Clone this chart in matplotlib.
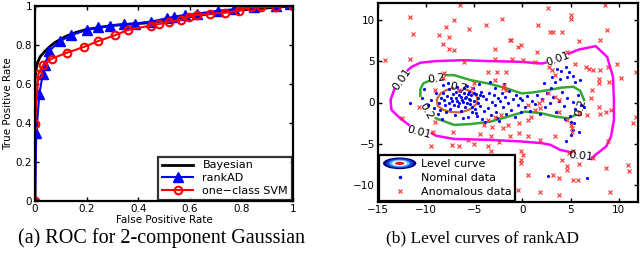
import matplotlib as mlp
mlp.use('Agg')
import matplotlib.pyplot as plt
from matplotlib.legend_handler import HandlerBase
from matplotlib.patches import Ellipse, Patch
from matplotlib.lines import Line2D

# ---- ROC curves (panel a)
bayes_fpr = [0, 0, 0.005, 0.01, 0.02, 0.04, 0.06, 0.08, 0.12, 0.16, 0.2, 0.25, 0.3, 0.35, 0.4,
             0.45, 0.5, 0.6, 0.7, 0.8, 0.9, 1.0]
bayes_tpr = [0, 0.63, 0.68, 0.71, 0.74, 0.77, 0.795, 0.815, 0.845, 0.865, 0.88, 0.89, 0.9, 0.905,
             0.91, 0.915, 0.925, 0.945, 0.965, 0.98, 0.99, 1.0]
rank_fpr = [0, 0.005, 0.017, 0.03, 0.04, 0.055, 0.097, 0.14, 0.2, 0.245, 0.29, 0.345, 0.387,
            0.45, 0.51, 0.54, 0.58, 0.626, 0.71, 0.77, 0.85, 0.935, 0.99]
rank_tpr = [0, 0.35, 0.55, 0.65, 0.70, 0.77, 0.82, 0.85, 0.877, 0.89, 0.9, 0.907, 0.91,
            0.92, 0.937, 0.945, 0.954, 0.96, 0.976, 0.983, 0.993, 1.0, 1.01]
svm_fpr = [0, 0, 0.013, 0.032, 0.065, 0.123, 0.19, 0.245, 0.31, 0.36, 0.45, 0.48, 0.52,
           0.564, 0.597, 0.626, 0.677, 0.738, 0.79, 0.839, 0.877, 0.933, 1.0]
svm_tpr = [0, 0.395, 0.651, 0.697, 0.73, 0.76, 0.79, 0.82, 0.85, 0.877, 0.9, 0.907, 0.92,
           0.928, 0.945, 0.954, 0.96, 0.966, 0.976, 0.993, 0.993, 0.997, 1.0]

# ---- level curves of rankAD (panel b)
lev001_a = [(-9.4, -3.7), (-9.0, -4.0), (-7.1, -4.4), (-3.6, -4.5), (-0.1, -4.7), (2.0, -4.9),
            (2.9, -5.1), (3.9, -5.7), (5.0, -6.0)]
lev001_b = [(7.2, -6.7), (7.6, -6.3), (8.7, -5.3), (9.2, -4.1), (9.5, -2.1), (9.5, 0.3),
            (9.4, 3.1), (8.8, 5.5), (7.6, 6.8), (5.9, 6.4), (4.8, 5.9)]
lev001_c = [(2.4, 4.8), (2.0, 4.7), (-0.1, 4.9), (-3.6, 5.0), (-6.1, 5.1), (-8.9, 5.0),
            (-10.6, 4.8), (-11.5, 4.3), (-11.9, 3.9)]
lev001_d = [(-13.3, 1.6), (-13.7, 0.3), (-13.6, -0.9), (-12.7, -1.9), (-11.8, -2.7)]
lev02_a = [(-8.0, 3.3), (-7.1, 3.3), (-5.4, 2.7), (-3.6, 2.3), (-1.9, 1.8), (-0.1, 1.1),
           (1.0, 1.2), (2.7, 1.5), (4.1, 1.8), (5.3, 1.9), (6.0, 1.4), (6.4, 0.3)]
lev02_b = [(5.5, -1.5), (4.8, -1.9), (3.4, -1.7), (2.0, -1.3), (0.25, -1.1), (-1.5, -1.7),
           (-3.3, -2.3), (-5.4, -2.6), (-7.1, -2.7), (-9.0, -1.9)]
lev02_c = [(-9.7, 2.6), (-10.3, 2.3), (-10.6, 1.6), (-10.6, 0.8)]
lev07 = [(-7.2, 1.75), (-7.9, 1.5), (-8.5, 1.1), (-8.9, 0.4), (-8.8, -0.4), (-8.2, -0.9),
         (-7.4, -1.15), (-6.4, -1.2), (-5.4, -0.8), (-4.7, -0.1), (-4.7, 0.7), (-5.3, 1.3),
         (-5.9, 1.6)]
level_labels = [('0.01', -12.5, 2.8, 55), ('0.01', 3.7, 5.3, 20), ('0.01', 6.1, -6.5, -5),
                ('0.01', -10.7, -3.6, -15), ('0.2', -8.9, 2.9, 10), ('0.2', 6.0, -0.6, 75),
                ('0.2', -10.0, -1.0, -60), ('0.7', -6.6, 1.8, -10)]

nominal = [(-8.5, 0.5), (-8.2, 1.2), (-8.0, -0.3), (-7.8, 0.8), (-7.6, 1.6), (-7.5, -0.8),
           (-7.3, 0.2), (-7.2, 1.0), (-7.0, -1.5), (-6.9, 0.6), (-6.8, 1.9), (-6.7, -0.4),
           (-6.6, 0.9), (-6.5, 1.4), (-6.4, -1.0), (-6.3, 0.3), (-6.2, 0.1), (-6.1, 1.1),
           (-6.0, -0.6), (-5.9, 0.7), (-5.8, 2.0), (-5.7, -1.8), (-5.6, 0.4), (-5.5, 1.3),
           (-5.4, -0.2), (-5.3, 0.9), (-5.2, -1.2), (-5.1, 1.7), (-5.0, 0.2), (-4.9, -0.8),
           (-4.8, 1.0), (-4.7, -1.6), (-4.6, 0.5), (-4.5, 2.2), (-4.4, -0.4), (-4.3, 1.3),
           (-4.2, -2.0), (-4.1, 0.8), (-4.0, -1.0), (-9.5, 0.3), (-9.2, -0.7), (-9.0, 1.1),
           (-8.8, -1.4), (-8.7, 0.0), (-8.4, -2.0), (-8.3, 2.1), (-8.1, 0.3), (-7.9, -1.1),
           (-7.7, 2.4), (-7.4, 0.6), (-7.1, -0.3), (-6.95, 1.3), (-6.75, 0.2), (-6.55, -0.1),
           (-6.35, 0.7), (-6.15, -1.9), (-5.95, 0.5), (-5.75, -0.1), (-5.65, 1.0), (-5.45, 0.3),
           (-5.25, -0.5), (-5.05, 1.1), (-4.85, -1.3), (-4.65, 0.0), (-4.45, 0.9), (-10.2, 1.6),
           (-9.8, -0.3), (-10.4, 0.6), (-11.7, -0.1), (-7.65, -0.05), (-6.05, 1.75), (-8.6, -0.9),
           (-3.8, 0.4), (-3.6, -0.7), (-3.5, 1.2), (-3.3, -1.5), (-3.2, 0.1), (-3.0, 0.9),
           (-2.9, -0.3), (-2.8, 1.8), (-2.7, -1.1), (-2.5, 0.5), (-2.4, -2.2), (-2.3, 0.2),
           (-2.1, 1.1), (-2.0, -0.6), (-1.8, 0.7), (-1.7, -1.4), (-1.5, 0.0), (-1.4, 1.4),
           (-1.2, -0.9), (-1.0, 0.4), (-0.8, -1.8), (-0.7, 0.9), (-0.5, -0.3), (-0.3, 0.6),
           (-0.2, -1.2), (0.0, 0.3), (-3.4, 2.5), (-2.6, -1.9), (-1.9, 2.2), (-3.9, -2.4),
           (0.3, -0.5), (0.5, 0.8), (0.8, -1.0), (1.0, 0.2), (1.3, -0.2), (1.5, 0.9),
           (1.8, -1.4), (2.0, 0.4), (2.3, -0.6), (2.6, 1.2), (2.9, -0.1), (3.2, 0.7),
           (3.5, -1.1), (3.8, 0.2), (4.1, 1.3), (4.3, -0.4), (4.6, 0.6), (4.9, -1.6),
           (5.2, 0.1), (5.5, -0.8), (5.8, 0.9), (6.1, -0.3), (6.4, -0.6), (5.0, -2.3),
           (4.4, -2.0), (3.0, 1.8), (3.1, 3.1), (3.4, 2.5), (3.6, 4.1), (4.0, 3.8),
           (4.5, 4.3), (4.6, 3.1), (4.8, 3.7), (5.5, 2.5), (6.0, 2.7), (2.2, 2.4),
           (3.9, 2.8), (5.2, 3.2), (5.0, -3.9), (5.2, -3.3), (5.9, -3.5), (5.4, -2.5),
           (2.7, -8.9), (6.7, -9.1), (4.5, -4.6)]

anomalous = [(-6.5, 11.7), (-11.7, 10.3), (-7.1, 9.9), (5.0, 10.5), (5.0, 10.1), (2.7, 11.4),
             (8.6, 11.8), (-11.4, 8.3), (-7.9, 9.1), (-8.7, 8.1), (-7.6, 7.9), (-5.5, 8.9),
             (-3.8, 9.3), (-2.1, 10.1), (2.9, 8.5), (3.2, 8.5), (4.1, 8.5), (8.8, 8.8),
             (1.65, 9.4), (-1.15, 7.5), (-1.3, 7.5), (-0.45, 6.7), (-0.1, 6.9), (-8.2, 7.1),
             (-7.6, 6.5), (-7.1, 6.3), (-2.9, 6.5), (1.5, 6.1), (4.6, 6.1), (5.9, 7.4),
             (8.1, 7.5), (-14.3, 5.1), (-11.7, 5.3), (-6.1, 4.9), (-2.9, 5.3), (-1.1, 5.3),
             (0.1, 5.1), (1.3, 4.9), (2.8, 4.3), (3.1, 3.9), (3.4, 3.3), (5.5, 4.7),
             (6.6, 4.3), (6.9, 4.1), (7.3, 3.9), (8.1, 3.9), (8.9, 4.3), (9.8, 4.6),
             (10.2, 3.0), (11.8, 3.7), (9.0, 2.5), (7.9, 2.8), (7.9, 2.3), (7.2, 1.5),
             (7.1, 0.5), (7.9, -0.5), (8.7, -1.1), (9.2, -0.9), (6.7, -1.5), (5.9, -1.3),
             (5.0, -2.7), (4.6, -2.1), (3.8, -1.2), (3.8, 0.3), (3.4, 0.7), (2.7, 1.1),
             (2.0, 0.3), (1.7, -0.1), (1.8, -0.7), (1.3, -0.9), (0.6, -0.3), (0.9, -1.8),
             (0.6, -2.1), (-0.4, -2.5), (-1.5, -2.7), (-2.2, -1.5), (-2.9, -1.7), (-3.6, -2.1),
             (-4.0, -2.7), (-3.2, -2.9), (-2.0, 1.7), (-1.9, 2.1), (-1.7, 1.5), (-2.9, 2.7),
             (-2.6, 3.7), (-1.7, 3.7), (-3.6, 3.7), (-5.0, 2.3), (-5.2, 1.7), (-6.6, 1.5),
             (-8.1, 3.6), (-8.3, 2.9), (-9.1, 1.5), (-10.7, -0.5), (-12.5, -1.9), (-9.1, -2.3),
             (-9.3, -3.5), (-7.2, -3.6), (-5.7, -4.5), (-4.4, -3.8), (-3.3, -4.1), (-2.0, -3.1),
             (-1.3, -4.1), (-0.4, -3.7), (0.6, -4.1), (1.8, -4.5), (3.4, -4.1), (5.1, -3.1),
             (5.1, -3.5), (5.3, -5.9), (4.8, -6.1), (4.1, -6.9), (7.3, -6.7), (5.9, -7.4),
             (4.6, -7.7), (4.6, -8.1), (-0.1, -5.9), (0.05, -6.3), (-0.1, -6.9), (-0.1, -7.3),
             (0.6, -8.7), (3.2, -8.7), (3.8, -9.1), (5.2, -9.3), (5.8, -9.3), (1.8, -10.8),
             (3.8, -11.1), (-0.45, -10.5), (9.1, -10.8), (11.0, -7.5), (11.1, -8.3), (11.8, -1.7),
             (11.5, -2.5), (8.1, -1.4), (8.9, -4.7), (8.7, -7.9), (-9.5, -5.2), (-7.3, -5.1),
             (-6.6, -5.3), (-5.0, -5.0), (-3.6, -5.2), (-3.3, -5.9), (-2.4, -4.8)]


class HandlerLevel(HandlerBase):
    # nested ellipses, like a filled contour swatch
    def create_artists(self, legend, orig_handle, xdescent, ydescent, width, height, fontsize, trans):
        cx = width / 2 - xdescent
        cy = height / 2 - ydescent
        out = []
        for s, c in zip([1.0, 0.82, 0.62, 0.45, 0.28],
                        ['#00007a', '#1040e0', '#60b8ff', '#ffffff', '#ff1010']):
            out.append(Ellipse((cx, cy), width * s, height * 1.5 * s, facecolor=c,
                               edgecolor='none', transform=trans))
        return out


def style_axes(ax):
    for sp in ax.spines.values():
        sp.set_linewidth(1.6)
    ax.tick_params(direction='in', top=True, right=True, length=3, width=1, labelsize=7.5, pad=2)


fig = plt.figure(figsize=(6.4, 2.6), dpi=100)
plt.rcParams['font.family'] = 'DejaVu Sans'

ax1 = fig.add_axes([35 / 640, 1 - 201 / 260, 258 / 640, 195 / 260])
ax1.plot(bayes_fpr, bayes_tpr, color='black', lw=2, label='Bayesian')
ax1.plot(rank_fpr, rank_tpr, color='blue', lw=1.5, marker='^', ms=6.5, label='rankAD')
ax1.plot(svm_fpr, svm_tpr, color='red', lw=1.5, marker='o', ms=5.5, mfc='none', mew=1.5,
         label='one\u2212class SVM')
ax1.set_xlim(0, 1)
ax1.set_ylim(0, 1)
ax1.set_xticks([0, 0.2, 0.4, 0.6, 0.8, 1])
ax1.set_xticklabels(['0', '0.2', '0.4', '0.6', '0.8', '1'])
ax1.set_yticks([0, 0.2, 0.4, 0.6, 0.8, 1])
ax1.set_yticklabels(['0', '0.2', '0.4', '0.6', '0.8', '1'])
ax1.set_xlabel('False Positive Rate', fontsize=7.5, labelpad=1)
ax1.set_ylabel('True Positive Rate', fontsize=7.5, labelpad=2)
style_axes(ax1)
leg1 = ax1.legend(loc='lower right', fontsize=8, fancybox=False, edgecolor='black',
                  borderaxespad=0.1, handlelength=2.8, labelspacing=0.25, borderpad=0.35)
leg1.get_frame().set_linewidth(1.6)

ax2 = fig.add_axes([378 / 640, 1 - 202 / 260, 260 / 640, 199 / 260])
for seg in [lev001_a, lev001_b, lev001_c, lev001_d]:
    ax2.plot([p[0] for p in seg], [p[1] for p in seg], color='#ff00ff', lw=1.8)
for seg in [lev02_a, lev02_b, lev02_c]:
    ax2.plot([p[0] for p in seg], [p[1] for p in seg], color='#33a833', lw=1.8)
ax2.plot([p[0] for p in lev07], [p[1] for p in lev07], color='#d8643c', lw=1.6)
for txt, x, y, rot in level_labels:
    ax2.text(x, y, txt, fontsize=8, rotation=rot, ha='center', va='center')
ax2.plot([p[0] for p in nominal], [p[1] for p in nominal], '.', color='blue', ms=2.5)
ax2.plot([p[0] for p in anomalous], [p[1] for p in anomalous], 'x', color='#ff3030', ms=3.5,
         mew=0.8)
ax2.set_xlim(-15, 12)
ax2.set_ylim(-12, 12)
ax2.set_xticks([-15, -10, -5, 0, 5, 10])
ax2.set_xticklabels(['\u221215', '\u221210', '\u22125', '0', '5', '10'])
ax2.set_yticks([-10, -5, 0, 5, 10])
ax2.set_yticklabels(['\u221210', '\u22125', '0', '5', '10'])
style_axes(ax2)
handles = [Patch(label='Level curve'),
           Line2D([], [], ls='none', marker='.', color='blue', ms=3, label='Nominal data'),
           Line2D([], [], ls='none', marker='x', color='#ff3030', ms=3.5, mew=0.8,
                  label='Anomalous data')]
leg2 = ax2.legend(handles=handles, loc='lower left', fontsize=8, fancybox=False,
                  edgecolor='black', borderaxespad=0.1, handlelength=3.0, labelspacing=0.35,
                  borderpad=0.35, handletextpad=0.4, handler_map={Patch: HandlerLevel()},
                  framealpha=1)
leg2.get_frame().set_linewidth(1.6)

fig.text(161 / 640, 1 - 238 / 260, '(a) ROC for 2-component Gaussian', fontsize=14.5,
         family='Liberation Serif', ha='center', va='center')
fig.text(483 / 640, 1 - 238 / 260, '(b) Level curves of rankAD', fontsize=12.5,
         family='Liberation Serif', ha='center', va='center')

fig.savefig('out.png', dpi=100)
